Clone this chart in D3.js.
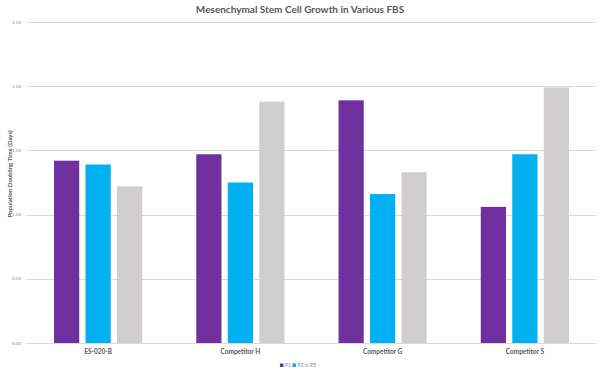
<!DOCTYPE html>
<html>
<head>
<meta charset="utf-8">
<script src="https://cdn.jsdelivr.net/npm/d3@7"></script>
<style>
  body { margin: 0; background: #fff; }
  svg { display: block; font-family: Lato, "Open Sans", sans-serif; }
</style>
</head>
<body>
<svg id="chart" width="600" height="373"></svg>
<script>
// data
const categories = ["ES-020-B", "Competitor H", "Competitor G", "Competitor S"];
const seriesNames = ["P1", "P2", "P3"];
const p1 = [1.42, 1.47, 1.89, 1.06];
const p2 = [1.39, 1.25, 1.16, 1.47];
const p3 = [1.22, 1.88, 1.33, 1.99];
const yTicks = [0, 0.5, 1.0, 1.5, 2.0, 2.5];
const colors = ["#7030a0", "#00b0f0", "#d0cece"];

const svg = d3.select("#chart");
const margin = { top: 22, right: 4, bottom: 30, left: 27 };
const width = +svg.attr("width");
const height = +svg.attr("height");
const chartWidth = width - margin.left - margin.right;
const chartHeight = 343 - margin.top;

const g = svg.append("g").attr("transform", `translate(${margin.left}, ${margin.top})`);

const rows = categories.map((c, i) => ({ cat: c, values: [p1[i], p2[i], p3[i]] }));

const x0 = d3.scaleBand().domain(categories).range([0, chartWidth])
    .paddingInner(0.38).paddingOuter(0.19);
const x1 = d3.scaleBand().domain(seriesNames).range([0, x0.bandwidth()]).paddingInner(0.2);
const y = d3.scaleLinear().domain([0, 2.5]).range([chartHeight, 0]);

// gridlines
g.selectAll(".grid")
    .data(yTicks)
    .enter().append("line")
    .attr("x1", 0).attr("x2", chartWidth)
    .attr("y1", d => Math.round(y(d)) + 0.5).attr("y2", d => Math.round(y(d)) + 0.5)
    .attr("stroke", "#d9d9d9").attr("stroke-width", 1);

// y tick labels
g.selectAll(".ytick")
    .data(yTicks)
    .enter().append("text")
    .attr("x", -6).attr("y", d => y(d))
    .attr("dy", "0.35em")
    .attr("text-anchor", "end")
    .attr("font-size", 4.5)
    .attr("fill", "#8c8c8c")
    .text(d => d3.format(".2f")(d));

// bars
const groups = g.selectAll(".group")
    .data(rows)
    .enter().append("g")
    .attr("transform", d => `translate(${x0(d.cat)},0)`);

groups.selectAll("rect")
    .data(d => d.values.map((v, i) => ({ key: seriesNames[i], value: v, i: i })))
    .enter().append("rect")
    .attr("x", d => x1(d.key))
    .attr("y", d => y(d.value))
    .attr("width", x1.bandwidth())
    .attr("height", d => chartHeight - y(d.value))
    .attr("fill", d => colors[d.i]);

// category labels
g.selectAll(".xlabel")
    .data(categories)
    .enter().append("text")
    .attr("x", d => x0(d) + x0.bandwidth() / 2)
    .attr("y", chartHeight + 11)
    .attr("text-anchor", "middle")
    .attr("font-size", 6.5)
    .attr("font-weight", "bold")
    .attr("fill", "#595959")
    .text(d => d);

// title
svg.append("text")
    .attr("x", width / 2).attr("y", 13)
    .attr("text-anchor", "middle")
    .attr("font-size", 10)
    .attr("font-weight", "bold")
    .attr("fill", "#595959")
    .text("Mesenchymal Stem Cell Growth in Various FBS");

// y axis title
svg.append("text")
    .attr("transform", "translate(12, 174) rotate(-90)")
    .attr("text-anchor", "middle")
    .attr("font-size", 6)
    .attr("font-weight", "bold")
    .attr("fill", "#595959")
    .text("Population Doubling Time (Days)");

// legend
const legend = svg.append("g").attr("transform", "translate(280, 365.5)");
const item = legend.selectAll(".item")
    .data(seriesNames)
    .enter().append("g")
    .attr("transform", (d, i) => `translate(${i * 12.5}, 0)`);
item.append("rect")
    .attr("x", 0).attr("y", -2).attr("width", 3.5).attr("height", 3.5)
    .attr("fill", (d, i) => colors[i]);
item.append("text")
    .attr("x", 5).attr("y", 0)
    .attr("dy", "0.35em")
    .attr("font-size", 5)
    .attr("fill", "#7f7f7f")
    .text(d => d);
</script>
</body>
</html>
